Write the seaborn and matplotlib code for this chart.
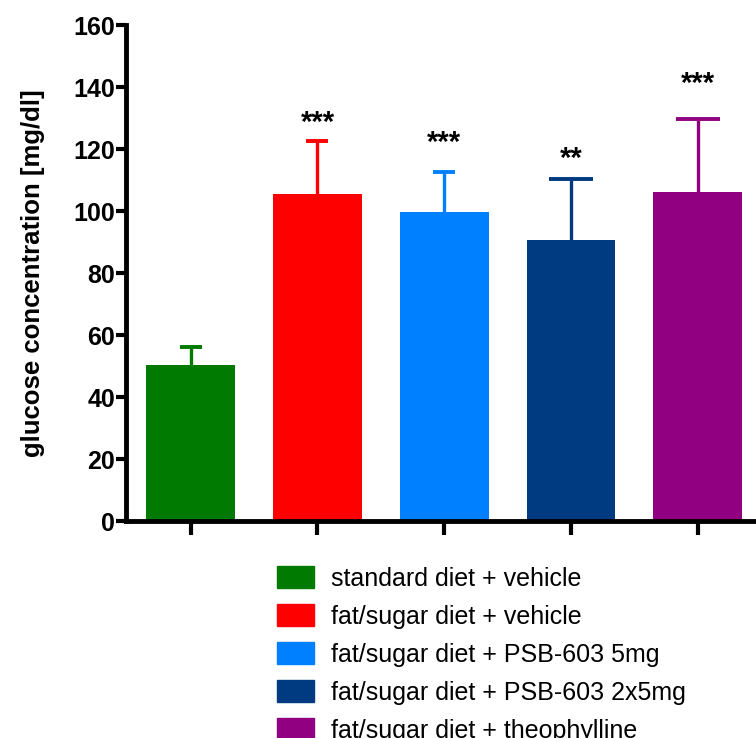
import matplotlib
matplotlib.use('Agg')
import matplotlib.pyplot as plt
import matplotlib.patches as mpatches
import pandas as pd
import seaborn as sns

groups = ['standard diet + vehicle', 'fat/sugar diet + vehicle',
          'fat/sugar diet + PSB-603 5mg', 'fat/sugar diet + PSB-603 2x5mg',
          'fat/sugar diet + theophylline']
glucose_mean = [50.3, 105.6, 99.6, 90.8, 106.2]
glucose_err = [5.9, 16.9, 12.9, 19.5, 23.4]
stars = ['', '***', '***', '**', '***']
star_y = [0, 128.5, 122.0, 116.8, 141.0]
yticks = [0, 20, 40, 60, 80, 100, 120, 140, 160]

colors = ['#007a00', '#ff0000', '#0080ff', '#003a80', '#910080']
capsizes = [8, 8, 8, 16, 16]

sns.set_style('ticks')
plt.rcParams['font.family'] = ['Liberation Sans', 'DejaVu Sans']
plt.rcParams['text.color'] = 'black'
plt.rcParams['axes.labelcolor'] = 'black'
plt.rcParams['xtick.color'] = 'black'
plt.rcParams['ytick.color'] = 'black'
plt.rcParams['axes.edgecolor'] = 'black'

df = pd.DataFrame({'group': groups, 'glucose': glucose_mean})

fig = plt.figure(figsize=(7.56, 7.38), dpi=100)
ax = fig.add_axes([0.1667, 0.294, 0.8333, 0.672])

sns.barplot(data=df, x='group', y='glucose', hue='group', palette=colors,
            width=0.7, legend=False, ax=ax, saturation=1, linewidth=0)

# upper error bars only, same colour as the bar
for i, (m, e) in enumerate(zip(glucose_mean, glucose_err)):
    _, caps, _ = ax.errorbar(i, m, yerr=[[0], [e]], color=colors[i],
                             capsize=capsizes[i], capthick=2.8,
                             elinewidth=2.4, zorder=1)
    caps[0].set_visible(False)

for i, s in enumerate(stars):
    if s:
        ax.text(i, star_y[i], s, ha='center', va='center', fontsize=21,
                fontweight='bold', color='black')

ax.set_ylim(0, 160)
ax.set_yticks(yticks)
ax.set_xlim(-0.51, 4.46)
ax.set_xticks(range(len(groups)))
ax.set_xticklabels([])
ax.set_xlabel('')
ax.set_ylabel('glucose concentration [mg/dl]', fontsize=18.5, fontweight='bold', labelpad=20)
for lbl in ax.get_yticklabels():
    lbl.set_fontweight('bold')
ax.tick_params(axis='y', labelsize=18, width=3, length=7, pad=1)
ax.tick_params(axis='x', width=3, length=10)
for side in ['left', 'bottom']:
    ax.spines[side].set_linewidth(3.5)
sns.despine(ax=ax)
ax.spines['left'].set_bounds(0, 160)

handles = [mpatches.Patch(color=c) for c in colors]
fig.legend(handles, groups, loc='upper left', bbox_to_anchor=(0.367, 0.233),
           frameon=False, fontsize=18, handlelength=1.45, handleheight=1.0,
           handletextpad=0.7, labelspacing=0.53, borderpad=0, borderaxespad=0)

fig.savefig('out.png', dpi=100, facecolor='white')
